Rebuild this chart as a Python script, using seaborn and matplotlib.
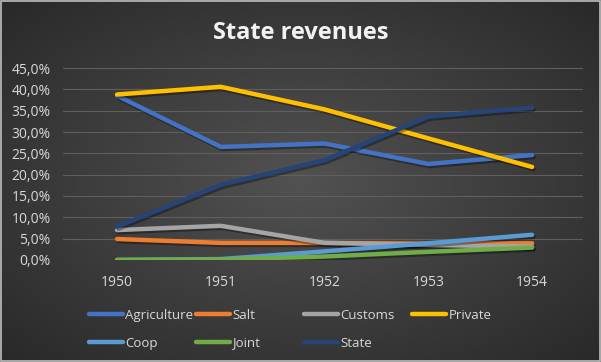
import numpy as np
import pandas as pd
import seaborn as sns
from matplotlib import pyplot as plt
from matplotlib.ticker import FuncFormatter, MultipleLocator
import matplotlib.patheffects as pe

years = [1950, 1951, 1952, 1953, 1954]
agriculture = [38.5, 26.5, 27.3, 22.5, 24.6]
salt = [4.9, 4.0, 4.0, 3.8, 3.9]
customs = [7.0, 8.0, 4.0, 3.5, 3.1]
private = [38.8, 40.6, 35.3, 28.5, 21.8]
coop = [0.0, 0.2, 2.0, 3.9, 5.9]
joint = [0.0, 0.1, 0.8, 1.9, 2.9]
state = [7.8, 17.6, 23.4, 33.6, 35.7]

series = {'Agriculture': agriculture, 'Salt': salt, 'Customs': customs,
          'Private': private, 'Coop': coop, 'Joint': joint, 'State': state}
colors = ['#4472C4', '#ED7D31', '#A5A5A5', '#FFC000', '#5B9BD5', '#70AD47', '#264478']

rows = []
for name, vals in series.items():
    for yr, v in zip(years, vals):
        rows.append({'year': yr, 'share': v / 100, 'source': name})
df = pd.DataFrame(rows)

sns.set_style('dark')
plt.rcParams['font.family'] = ['Open Sans', 'DejaVu Sans']
txt_col = '#d9d9d9'

fig = plt.figure(figsize=(6.01, 3.62), dpi=100)

# radial gradient background
bg = fig.add_axes([0, 0, 1, 1], zorder=-2)
xx, yy = np.meshgrid(np.linspace(-1, 1, 601), np.linspace(-1, 1, 362))
r = np.sqrt(xx ** 2 + yy ** 2) / np.sqrt(2)
shade = 0.32 - 0.16 * r
img = np.dstack([shade, shade, shade])
bg.imshow(img, aspect='auto', extent=[0, 1, 0, 1])
bg.set_axis_off()
fig.patches.append(plt.Rectangle((0.002, 0.003), 0.996, 0.994, transform=fig.transFigure,
                                 fill=False, edgecolor='#bfbfbf', linewidth=1.2))

ax = fig.add_axes([0.105, 0.282, 0.865, 0.530])
ax.set_facecolor('none')

sns.lineplot(data=df, x='year', y='share', hue='source', palette=colors,
             linewidth=3.2, ax=ax, legend=True,
             path_effects=[pe.SimpleLineShadow(offset=(1, -1.5), alpha=0.35), pe.Normal()])
for ln in ax.lines:
    ln.set_solid_capstyle('round')

ax.set_xlim(1949.48, 1954.49)
ax.set_ylim(0, 0.45)
ax.yaxis.set_major_locator(MultipleLocator(0.05))
ax.yaxis.set_major_formatter(FuncFormatter(lambda v, p: f'{v * 100:.1f}%'.replace('.', ',')))
ax.set_xticks(years)
ax.grid(axis='y', color='#5f5f5f', linewidth=0.8)
ax.grid(axis='x', visible=False)
ax.tick_params(colors=txt_col, labelsize=10, length=0)
ax.tick_params(axis='x', pad=11)
ax.tick_params(axis='y', pad=9)
for s in ax.spines.values():
    s.set_visible(False)
ax.set_xlabel('')
ax.set_ylabel('')

fig.text(0.5, 0.908, 'State revenues', ha='center', va='center', color='#f2f2f2',
         fontsize=17, fontweight='bold')

# legend laid out in fixed-width columns like the original
handles, labels = ax.get_legend_handles_labels()
ax.get_legend().remove()
hmap = dict(zip(labels, handles))
columns = [['Agriculture', 'Coop'], ['Salt', 'Joint'], ['Customs', 'State'], ['Private']]
col_x = [89, 196, 304, 412]
for xpos, names in zip(col_x, columns):
    leg = fig.legend([hmap[n] for n in names], names, loc='upper left',
                     bbox_to_anchor=(xpos / 601, 1 - 309 / 362), frameon=False,
                     fontsize=9.5, labelcolor=txt_col, handlelength=2.6, handletextpad=0.15,
                     labelspacing=1.1, borderpad=0, borderaxespad=0)
    for h in leg.legend_handles:
        h.set_linewidth(3.2)
        h.set_solid_capstyle('round')
        h.set_path_effects([])

fig.savefig('out.png', dpi=100)
